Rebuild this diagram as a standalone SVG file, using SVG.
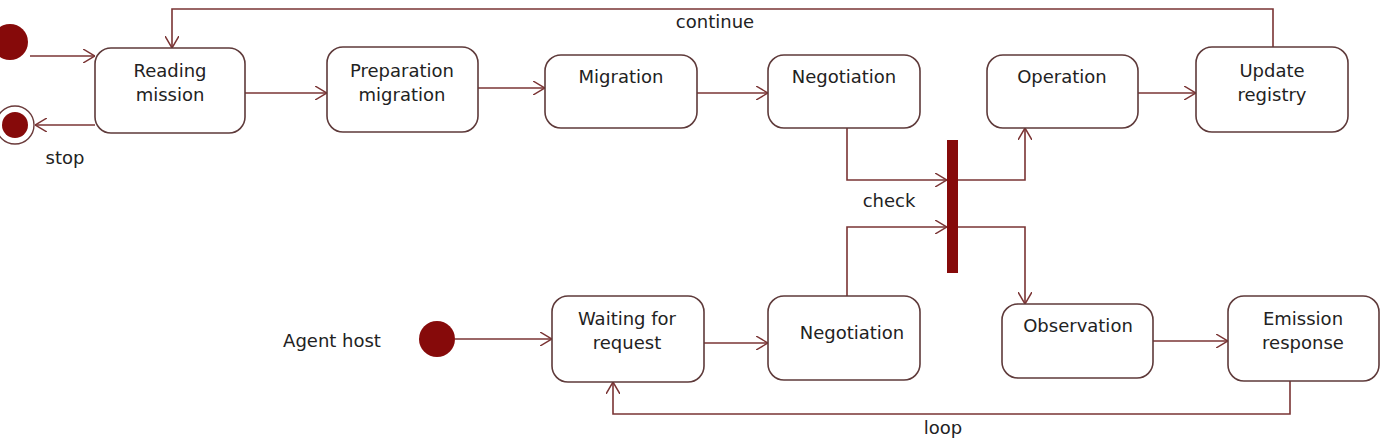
<svg xmlns="http://www.w3.org/2000/svg" width="1384" height="441" viewBox="0 0 1384 441">
<defs>
<marker id="arr" viewBox="0 0 12 14" refX="12" refY="7" markerWidth="12" markerHeight="14" markerUnits="userSpaceOnUse" orient="auto">
<path d="M0,0 L12,7 L0,14" fill="none" stroke="#7a3434" stroke-width="1.5"/>
</marker>
</defs>
<style>
.st{fill:#fff;stroke:#5e3a3a;stroke-width:1.6}
.t{font-family:"DejaVu Sans",sans-serif;font-size:18px;fill:#222;text-anchor:middle}
.c{fill:none;stroke:#7a3434;stroke-width:1.6}
.dot{fill:#860a0a}
</style>
<rect width="1384" height="441" fill="#fff"/>
<g id="connectors">
<path class="c" d="M30,56 H95" marker-end="url(#arr)"/>
<path class="c" d="M95,125 H35" marker-end="url(#arr)"/>
<path class="c" d="M1273,48 V9 H172 V48" marker-end="url(#arr)"/>
<path class="c" d="M245,93 H327" marker-end="url(#arr)"/>
<path class="c" d="M478,88 H545" marker-end="url(#arr)"/>
<path class="c" d="M697,93 H768" marker-end="url(#arr)"/>
<path class="c" d="M1138,93 H1196" marker-end="url(#arr)"/>
<path class="c" d="M847,128 V180 H947" marker-end="url(#arr)"/>
<path class="c" d="M847,296 V227 H947" marker-end="url(#arr)"/>
<path class="c" d="M958,180 H1025 V128" marker-end="url(#arr)"/>
<path class="c" d="M958,227 H1025 V304" marker-end="url(#arr)"/>
<path class="c" d="M1153,341 H1228" marker-end="url(#arr)"/>
<path class="c" d="M1290,381 V414 H613 V382" marker-end="url(#arr)"/>
<path class="c" d="M704,343 H768" marker-end="url(#arr)"/>
<path class="c" d="M455,339 H552" marker-end="url(#arr)"/>
<text class="t" x="715" y="28">continue</text>
<text class="t" x="889" y="207">check</text>
<text class="t" x="943" y="434">loop</text>
<text class="t" x="65" y="164">stop</text>
</g>
<g id="start1"><circle class="dot" cx="10" cy="42" r="18"/></g>
<g id="stop"><circle cx="15" cy="125" r="19" fill="#fff" stroke="#6a3a3a" stroke-width="1.4"/><circle class="dot" cx="15" cy="125" r="13"/></g>
<g id="reading"><rect class="st" x="95" y="48" width="150" height="85" rx="16"/><text class="t" x="170" y="77">Reading</text><text class="t" x="170" y="101">mission</text></g>
<g id="prep"><rect class="st" x="327" y="47" width="151" height="85" rx="16"/><text class="t" x="402" y="77">Preparation</text><text class="t" x="402" y="101">migration</text></g>
<g id="migration"><rect class="st" x="545" y="55" width="152" height="73" rx="16"/><text class="t" x="621" y="83">Migration</text></g>
<g id="negotiation1"><rect class="st" x="768" y="55" width="152" height="73" rx="16"/><text class="t" x="844" y="83">Negotiation</text></g>
<g id="operation"><rect class="st" x="987" y="55" width="151" height="73" rx="16"/><text class="t" x="1062" y="83">Operation</text></g>
<g id="update"><rect class="st" x="1196" y="47" width="152" height="85" rx="16"/><text class="t" x="1272" y="77">Update</text><text class="t" x="1272" y="101">registry</text></g>
<g id="fork"><rect x="947" y="140" width="11" height="133" fill="#860a0a"/></g>
<g id="agenthost"><text class="t" x="332" y="347">Agent host</text><circle class="dot" cx="437" cy="339" r="18"/></g>
<g id="waiting"><rect class="st" x="552" y="296" width="152" height="86" rx="16"/><text class="t" x="627" y="325">Waiting for</text><text class="t" x="627" y="349">request</text></g>
<g id="negotiation2"><rect class="st" x="768" y="296" width="152" height="84" rx="16"/><text class="t" x="852" y="339">Negotiation</text></g>
<g id="observation"><rect class="st" x="1002" y="304" width="151" height="74" rx="16"/><text class="t" x="1078" y="332">Observation</text></g>
<g id="emission"><rect class="st" x="1228" y="296" width="151" height="85" rx="16"/><text class="t" x="1303" y="325">Emission</text><text class="t" x="1303" y="349">response</text></g>
</svg>
